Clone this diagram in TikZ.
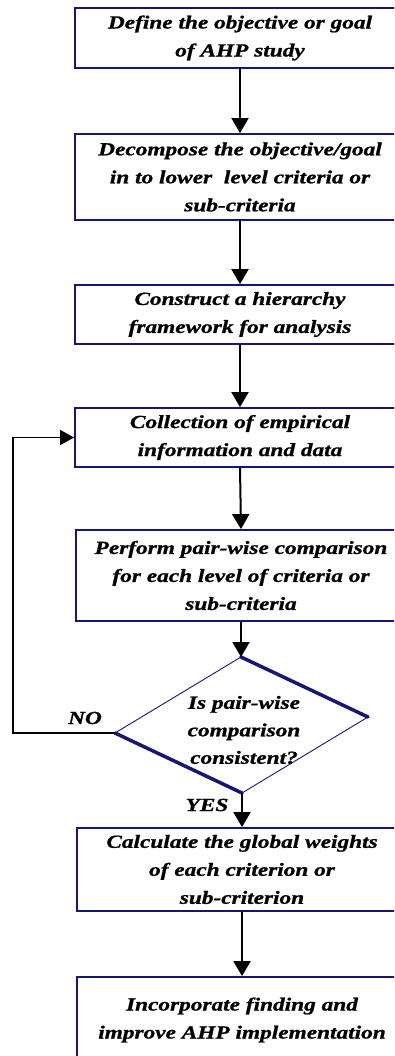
\documentclass[tikz,border=0pt]{standalone}
\usepackage{fontspec}
\setmainfont{Liberation Serif}
\newfontfamily\boxfont{Liberation Serif}[FakeStretch=1.26,FakeBold=1]
\usetikzlibrary{arrows.meta,calc}
\definecolor{navy}{RGB}{22,22,115}
\tikzset{
  stepbox/.style={draw=navy,line width=1.8pt,fill=white,minimum width=330pt,inner sep=0pt,
    align=center,font=\boxfont\fontsize{18.5}{28}\selectfont\bfseries\itshape},
  flow/.style={line width=2pt,-{Triangle[width=17pt,length=15pt]}},
  back/.style={line width=1.3pt,-{Triangle[width=15pt,length=14pt]}},
  lab/.style={font=\boxfont\fontsize{18.5}{28}\selectfont\bfseries\itshape,inner sep=0pt}
}
\begin{document}
\begin{tikzpicture}[x=1pt,y=-1pt]
\useasboundingbox (0,0) rectangle (394,1056);
\clip (0,0) rectangle (394,1056);
\node[stepbox,minimum height=60pt] (b1) at (240,38) {Define the objective or goal\\of AHP study};
\node[stepbox,minimum height=86pt] (b2) at (240,177) {Decompose the objective/goal\\in to lower\ \ level criteria or\\sub-criteria};
\node[stepbox,minimum height=59pt] (b3) at (240,314.5) {Construct a hierarchy\\framework for analysis};
\node[stepbox,minimum height=59pt] (b4) at (240,437.5) {Collection of empirical\\information and data};
\node[stepbox,minimum height=91pt] (b5) at (241,575.5) {Perform pair-wise comparison\\for each level of criteria or\\sub-criteria};
\node[stepbox,minimum height=83pt] (b6) at (242,869.5) {Calculate the global weights\\of each criterion or\\sub-criterion};
\node[stepbox,minimum height=86pt] (b7) at (242,1020) {Incorporate finding and\\improve AHP implementation};
% decision diamond
\coordinate (dtop) at (241,657);
\coordinate (dright) at (368,717);
\coordinate (dbottom) at (242,793);
\coordinate (dleft) at (115,733);
\draw[navy,line width=0.9pt] (dleft) -- (dtop);
\draw[navy,line width=0.9pt] (dright) -- (dbottom);
\draw[navy,line width=3.5pt,line cap=round] (dtop) -- (dright);
\draw[navy,line width=3.5pt,line cap=round] (dbottom) -- (dleft);
\node[lab,align=center,font=\boxfont\fontsize{18.5}{27.5}\selectfont\bfseries\itshape] (dtext) at (244,730) {Is pair-wise\\comparison\\consistent?};
% connectors
\draw[flow] (b1.south) -- (b2.north);
\draw[flow] (b2.south) -- (b3.north);
\draw[flow] (b3.south) -- (b4.north);
\draw[flow] (b4.south) -- (b5.north);
\draw[flow] (b5.south -| dtop) -- (dtop);
\draw[flow] (dbottom) -- (b6.north -| dbottom);
\draw[flow] (b6.south) -- (b7.north);
\coordinate (fb) at (13,437.5);
\draw[back] (dleft) -| (fb) -- (b4.west);
\node[lab] (no) at (85,718) {NO};
\node[lab] (yes) at (207,805) {YES};
\end{tikzpicture}
\end{document}
